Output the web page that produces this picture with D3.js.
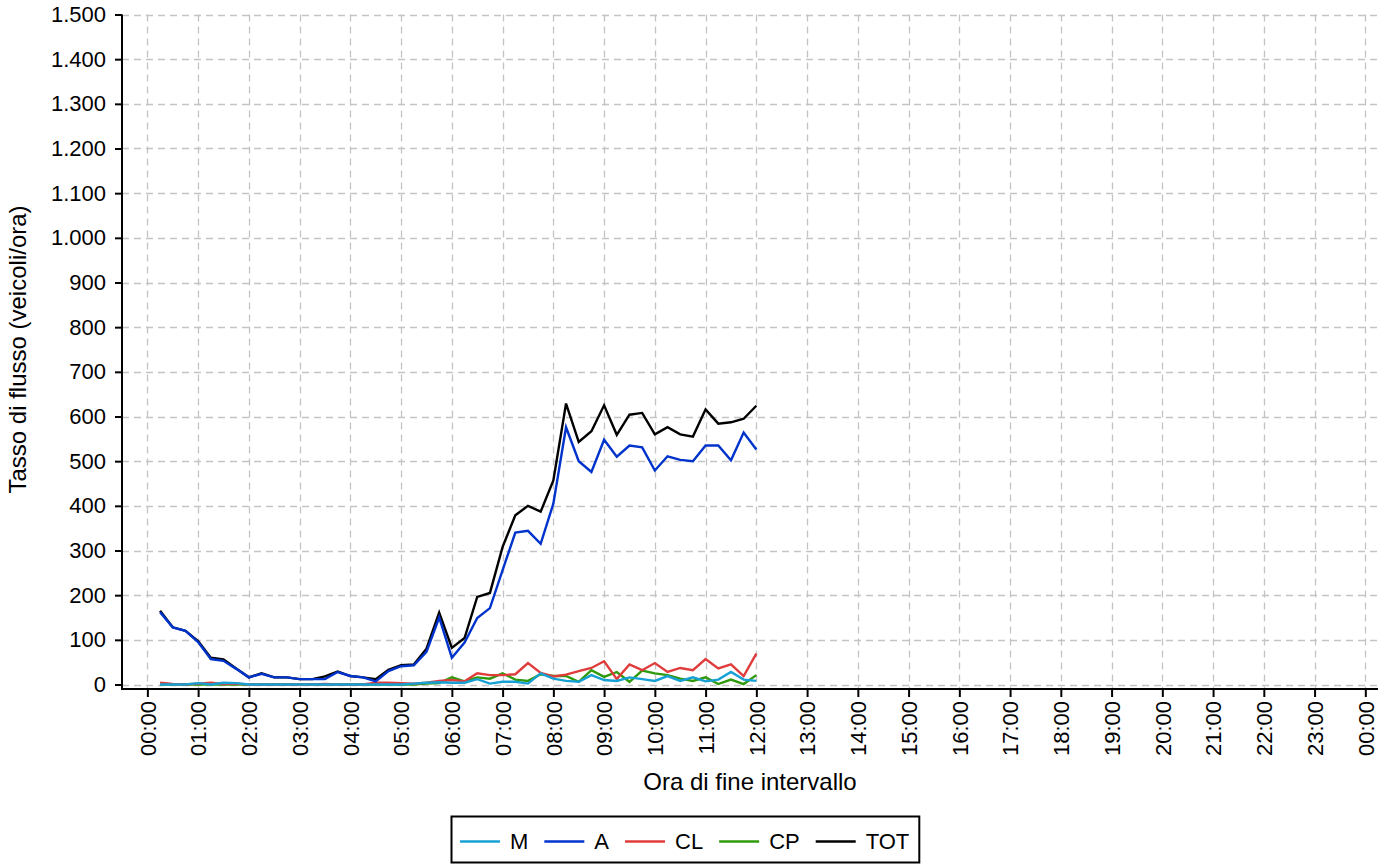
<!DOCTYPE html>
<html>
<head>
<meta charset="utf-8">
<script src="https://cdn.jsdelivr.net/npm/d3@7"></script>
<style>
  html, body { margin: 0; padding: 0; background: #fff; }
  svg { display: block; font-family: "Liberation Sans", Arial, sans-serif; }
</style>
</head>
<body>
<svg id="chart" width="1391" height="865"></svg>
<script>
// ---- data ----
const times = ["00:15","00:30","00:45","01:00","01:15","01:30","01:45","02:00",
  "02:15","02:30","02:45","03:00","03:15","03:30","03:45","04:00",
  "04:15","04:30","04:45","05:00","05:15","05:30","05:45","06:00",
  "06:15","06:30","06:45","07:00","07:15","07:30","07:45","08:00",
  "08:15","08:30","08:45","09:00","09:15","09:30","09:45","10:00",
  "10:15","10:30","10:45","11:00","11:15","11:30","11:45","12:00"];
const seriesM   = [0,0,0,3,0,4,3,0,0,0,0,0,0,0,0,0,0,0,0,0,2,4,5,4,
                   4,12,2,6,6,2,25,13,8,6,21,10,8,16,12,8,19,8,16,7,11,28,11,8];
const seriesA   = [162,128,120,95,57,53,35,16,24,16,16,12,12,12,28,19,16,7,30,41,43,73,150,60,
                   94,149,171,256,340,344,315,405,576,500,476,548,510,535,531,479,511,503,500,535,535,502,564,526];
const seriesCL  = [4,1,0,2,4,1,2,0,0,0,0,0,0,1,0,0,0,4,4,3,2,4,8,10,
                   7,25,21,21,23,48,26,18,22,30,37,52,12,45,32,48,28,37,32,57,36,45,19,69];
const seriesCP  = [0,0,0,0,0,0,0,0,0,0,0,0,0,0,0,0,0,0,0,0,0,2,3,16,
                   7,16,13,25,11,8,23,19,19,6,32,17,28,6,31,25,21,13,8,16,1,11,1,21];
const seriesTOT = [165,128,120,97,60,56,36,16,25,16,16,12,12,18,29,19,16,12,33,43,45,80,161,82,
                   104,196,205,308,379,400,387,457,629,543,567,625,559,604,608,560,576,560,555,616,584,587,595,624];
const xTickLabels = ["00:00","01:00","02:00","03:00","04:00","05:00","06:00","07:00",
  "08:00","09:00","10:00","11:00","12:00","13:00","14:00","15:00","16:00","17:00",
  "18:00","19:00","20:00","21:00","22:00","23:00","00:00"];
const yTicks = [0,100,200,300,400,500,600,700,800,900,1000,1100,1200,1300,1400,1500];
const seriesNames  = ["M","A","CL","CP","TOT"];
const seriesColors = ["#17a0d4","#0033cc","#e03c3c","#2f9a0c","#000000"];
const seriesData   = [seriesM, seriesA, seriesCL, seriesCP, seriesTOT];
const xTitle = "Ora di fine intervallo";
const yTitle = "Tasso di flusso (veicoli/ora)";

// ---- chart ----
const svg = d3.select("#chart");
const L = 122, R = 1378, T = 14.5, B = 684.5, AXY = 689;
const x = d3.scaleLinear().domain([-0.5, 24.25]).range([L, R]);
const y = d3.scaleLinear().domain([0, 1500]).range([B, T]);
const toHours = s => { const [h, m] = s.split(":").map(Number); return h + m / 60; };
const itLocale = d3.formatLocale({decimal: ",", thousands: ".", grouping: [3], currency: ["€", ""]});
const fmt = itLocale.format(",d");
const xTickVals = xTickLabels.map((d, i) => i);

// grid
const grid = svg.append("g").attr("stroke", "#c4c4c4").attr("stroke-width", 1.3)
  .attr("stroke-dasharray", "7,5").attr("fill", "none");
grid.selectAll("line.h").data(yTicks).join("line")
  .attr("x1", L).attr("x2", R)
  .attr("y1", d => Math.round(y(d)) + 0.5).attr("y2", d => Math.round(y(d)) + 0.5);
grid.selectAll("line.v").data(xTickVals).join("line")
  .attr("y1", T).attr("y2", AXY)
  .attr("x1", d => Math.round(x(d)) + 0.5).attr("x2", d => Math.round(x(d)) + 0.5);

// series lines (draw TOT first so others sit on top)
const line = d3.line().x((d, i) => x(toHours(times[i]))).y(d => y(d));
const order = [4, 3, 2, 1, 0];
svg.append("g").selectAll("path").data(order).join("path")
  .attr("fill", "none")
  .attr("stroke", i => seriesColors[i])
  .attr("stroke-width", 2.4)
  .attr("stroke-linejoin", "miter")
  .attr("d", i => line(seriesData[i]));

// y axis
const yAxis = d3.axisLeft(y).tickValues(yTicks).tickFormat(fmt).tickSize(7).tickPadding(9);
const gy = svg.append("g").attr("transform", `translate(${L},0)`).call(yAxis);
gy.select(".domain").remove();
gy.append("line").attr("x1", 0).attr("x2", 0).attr("y1", T).attr("y2", AXY + 1)
  .attr("stroke", "#000").attr("stroke-width", 2);
gy.selectAll(".tick line").attr("stroke", "#000").attr("stroke-width", 2);
gy.selectAll(".tick text").attr("font-size", 22).attr("fill", "#000")
  .attr("font-family", "Liberation Sans, Arial, sans-serif");

// x axis
const xAxis = d3.axisBottom(x).tickValues(xTickVals).tickFormat((d, i) => xTickLabels[i]).tickSize(8);
const gx = svg.append("g").attr("transform", `translate(0,${AXY})`).call(xAxis);
gx.select(".domain").remove();
gx.append("line").attr("x1", L - 1).attr("x2", R).attr("y1", 0).attr("y2", 0)
  .attr("stroke", "#000").attr("stroke-width", 2);
gx.selectAll(".tick line").attr("stroke", "#000").attr("stroke-width", 2);
gx.selectAll(".tick text").attr("font-size", 22).attr("fill", "#000")
  .attr("font-family", "Liberation Sans, Arial, sans-serif")
  .attr("text-anchor", "end")
  .attr("transform", "rotate(-90)")
  .attr("x", -12).attr("y", 0).attr("dy", "0.35em");

// titles
svg.append("text").attr("x", (L + R) / 2).attr("y", 790).attr("text-anchor", "middle")
  .attr("font-size", 24).text(xTitle);
svg.append("text").attr("transform", `translate(26,${(T + B) / 2}) rotate(-90)`)
  .attr("text-anchor", "middle").attr("font-size", 24).text(yTitle);

// legend
const lg = svg.append("g");
const box = lg.append("rect").attr("fill", "#fff").attr("stroke", "#000").attr("stroke-width", 2);
let cx = 460;
const ly = 841.5;
seriesNames.forEach((name, i) => {
  lg.append("line").attr("x1", cx).attr("x2", cx + 40).attr("y1", ly).attr("y2", ly)
    .attr("stroke", seriesColors[i]).attr("stroke-width", 2.4);
  const t = lg.append("text").attr("x", cx + 50).attr("y", ly).attr("dy", "0.35em")
    .attr("font-size", 22).text(name);
  const w = t.node().getComputedTextLength();
  cx = cx + 50 + w + 16;
});
box.attr("x", 451.5).attr("y", 816.5).attr("width", cx - 16 + 10 - 451.5).attr("height", 46);
</script>
</body>
</html>
